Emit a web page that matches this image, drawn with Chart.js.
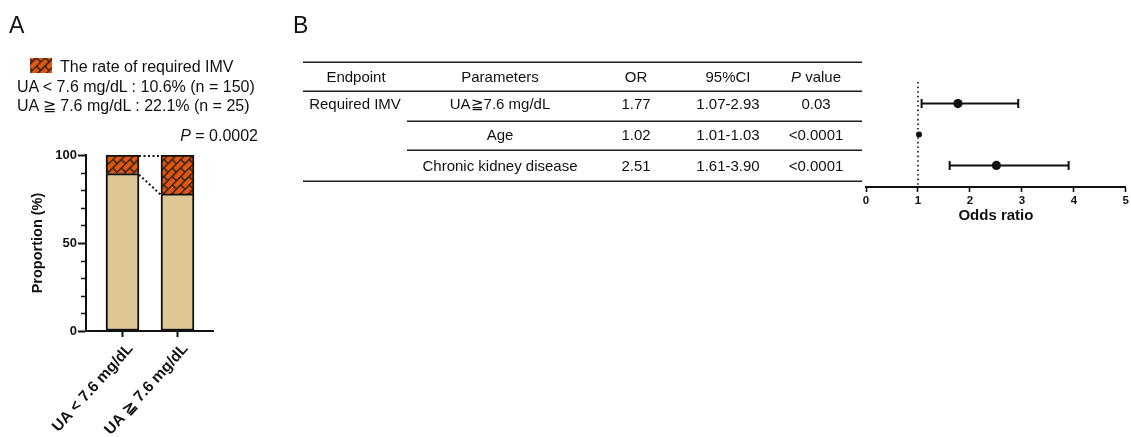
<!DOCTYPE html>
<html>
<head>
<meta charset="utf-8">
<script src="https://cdn.jsdelivr.net/npm/chart.js@4.4.1/dist/chart.umd.min.js"></script>
<style>
  html, body { margin: 0; padding: 0; background: #fff; width: 1131px; height: 437px; overflow: hidden; }
  body { position: relative; font-family: "Liberation Sans", Arial, sans-serif; color: #111; }
  canvas { position: absolute; top: 0; }
  .panel { position: absolute; font-size: 23px; line-height: 23px; }
  .t { position: absolute; white-space: nowrap; font-size: 16px; line-height: 16px; }
</style>
</head>
<body>
<canvas id="barA" width="280" height="437" style="left:0"></canvas>
<canvas id="forestB" width="841" height="437" style="left:290px"></canvas>

<div class="panel" style="left:9px; top:13.5px">A</div>
<div class="panel" style="left:293px; top:13.5px">B</div>
<div class="t" style="left:60px; top:59px">The rate of required IMV</div>
<div class="t" style="left:17px; top:79px">UA &lt; 7.6 mg/dL : 10.6% (n = 150)</div>
<div class="t" style="left:17px; top:97.5px">UA &#8807; 7.6 mg/dL : 22.1% (n = 25)</div>
<div class="t" style="right:873px; top:127.5px"><i>P</i> = 0.0002</div>

<script>
// ---- Panel A: proportion of patients by uric acid group ----
const groupLabels = ['UA < 7.6 mg/dL', 'UA \u2267 7.6 mg/dL'];
const groupPos = [1, 2];
const noImvRate = [89.4, 77.9];
const imvRate = [10.6, 22.1];
const proportionTicks = [0, 50, 100];

// ---- Panel B: multivariable odds ratios for required IMV ----
const endpointLabel = 'Required IMV';
const paramLabels = ['UA\u22677.6 mg/dL', 'Age', 'Chronic kidney disease'];
const rowPos = [1, 2, 3];
const oddsRatio = [1.77, 1.02, 2.51];
const ciLow = [1.07, 1.01, 1.61];
const ciHigh = [2.93, 1.03, 3.90];
const pValues = ['0.03', '<0.0001', '<0.0001'];
const oddsTicks = [0, 1, 2, 3, 4, 5];

const FAMILY = '"Liberation Sans", Arial, sans-serif';
const INK = '#111';

// brick hatch used for the IMV segment and its legend swatch
function brickPattern(ctx) {
  const t = document.createElement('canvas');
  t.width = 12; t.height = 12;
  const g = t.getContext('2d');
  g.fillStyle = '#e4570e';
  g.fillRect(0, 0, 12, 12);
  g.strokeStyle = '#1b1b1b';
  g.lineWidth = 1.3;
  g.beginPath();
  g.moveTo(0, 0.5); g.lineTo(12, 0.5);
  g.moveTo(0, 6.5); g.lineTo(12, 6.5);
  g.moveTo(3, 0.5); g.lineTo(3, 6.5);
  g.moveTo(9, 6.5); g.lineTo(9, 12.5);
  g.stroke();
  const p = ctx.createPattern(t, 'repeat');
  p.setTransform(new DOMMatrix().rotateSelf(-45));
  return p;
}

const ctxA = document.getElementById('barA').getContext('2d');
const brick = brickPattern(ctxA);

// minor ticks on the proportion axis, dotted connectors between bars, legend swatch
const barExtras = {
  id: 'barExtras',
  afterDraw(chart) {
    const ctx = chart.ctx;
    const ys = chart.scales.y;
    const x0 = chart.chartArea.left;
    ctx.save();
    ctx.strokeStyle = INK;
    ctx.lineWidth = 1.5;
    ctx.beginPath();
    for (let v = 10; v < 100; v += 10) {
      if (v % 50 === 0) continue;
      const py = Math.round(ys.getPixelForValue(v)) + 0.5;
      ctx.moveTo(x0 - 5, py);
      ctx.lineTo(x0, py);
    }
    ctx.stroke();

    const m0 = chart.getDatasetMeta(0).data;
    const m1 = chart.getDatasetMeta(1).data;
    ctx.setLineDash([2, 2.5]);
    ctx.lineWidth = 2;
    ctx.beginPath();
    [m0, m1].forEach(d => {
      ctx.moveTo(d[0].x + d[0].width / 2, d[0].y + 1);
      ctx.lineTo(d[1].x - d[1].width / 2, d[1].y + 1);
    });
    ctx.stroke();
    ctx.setLineDash([]);

    ctx.fillStyle = brick;
    ctx.fillRect(30, 58, 22, 15);
    ctx.restore();
  }
};

new Chart(ctxA, {
  type: 'bar',
  data: {
    datasets: [
      {
        label: 'No IMV',
        data: groupPos.map((x, i) => ({ x, y: noImvRate[i] })),
        backgroundColor: '#dfc795',
        borderColor: INK,
        borderWidth: 2,
        borderSkipped: false,
        barThickness: 33
      },
      {
        label: 'The rate of required IMV',
        data: groupPos.map((x, i) => ({ x, y: imvRate[i] })),
        backgroundColor: brick,
        borderColor: INK,
        borderWidth: 2,
        borderSkipped: 'bottom',
        barThickness: 33
      }
    ]
  },
  options: {
    responsive: false,
    animation: false,
    layout: { padding: { left: 0, right: 67, top: 155, bottom: 0 } },
    plugins: { legend: { display: false }, tooltip: { enabled: false } },
    scales: {
      x: {
        type: 'linear',
        stacked: true,
        offset: false,
        min: 0.3364,
        max: 2.6455,
        afterBuildTicks: s => { s.ticks = groupPos.map(v => ({ value: v })); },
        afterFit: s => { s.height = 106; },
        ticks: {
          callback: v => groupLabels[groupPos.indexOf(v)],
          minRotation: 48,
          maxRotation: 48,
          labelOffset: 8,
          font: { family: FAMILY, weight: 'bold', size: 15.5 },
          color: INK,
          padding: 3
        },
        grid: { offset: false, drawOnChartArea: false, tickLength: 6, tickWidth: 2, tickColor: INK },
        border: { color: INK, width: 2 }
      },
      y: {
        stacked: true,
        min: 0,
        max: 100,
        afterBuildTicks: s => { s.ticks = proportionTicks.map(v => ({ value: v })); },
        afterFit: s => { s.width = 86; },
        ticks: { font: { family: FAMILY, weight: 'bold', size: 13 }, color: INK, padding: 1 },
        grid: { drawOnChartArea: false, tickLength: 8, tickWidth: 2, tickColor: INK },
        border: { color: INK, width: 2 },
        title: {
          display: true,
          text: 'Proportion (%)',
          font: { family: FAMILY, weight: 'bold', size: 14.5 },
          color: INK,
          padding: { top: 29, bottom: 0 }
        }
      }
    }
  },
  plugins: [barExtras]
});

// ---- Panel B ----
const ctxB = document.getElementById('forestB').getContext('2d');

// confidence intervals, reference line at OR = 1, and the regression table
const forestExtras = {
  id: 'forestExtras',
  beforeDatasetsDraw(chart) {
    const ctx = chart.ctx;
    const xs = chart.scales.x, ys = chart.scales.y;
    const ca = chart.chartArea;
    ctx.save();
    ctx.strokeStyle = INK;
    ctx.setLineDash([1.6, 3]);
    ctx.lineWidth = 1.6;
    ctx.beginPath();
    const x1 = xs.getPixelForValue(1);
    ctx.moveTo(x1, ca.top);
    ctx.lineTo(x1, ca.bottom);
    ctx.stroke();
    ctx.setLineDash([]);
    ctx.lineWidth = 2;
    ctx.beginPath();
    rowPos.forEach((r, i) => {
      const py = ys.getPixelForValue(r);
      const a = xs.getPixelForValue(ciLow[i]);
      const b = xs.getPixelForValue(ciHigh[i]);
      ctx.moveTo(a, py); ctx.lineTo(b, py);
      if (b - a > 4) {
        ctx.moveTo(a, py - 4.5); ctx.lineTo(a, py + 4.5);
        ctx.moveTo(b, py - 4.5); ctx.lineTo(b, py + 4.5);
      }
    });
    ctx.stroke();
    ctx.restore();
  },
  afterDraw(chart) {
    const ctx = chart.ctx;
    const ys = chart.scales.y;
    const left = 13, right = 572, innerLeft = 117;
    const col = [66, 210, 346, 438, 526];
    const cap = 15 * 0.358;
    ctx.save();
    ctx.strokeStyle = '#1e1e1e';
    ctx.lineWidth = 1.6;
    const hline = (v, x0) => {
      const py = Math.round(ys.getPixelForValue(v)) + 0.2;
      ctx.beginPath(); ctx.moveTo(x0, py); ctx.lineTo(right, py); ctx.stroke();
    };
    hline(-0.357, left);
    hline(0.59, left);
    hline(1.553, innerLeft);
    hline(2.508, innerLeft);
    hline(3.49, left);

    ctx.fillStyle = INK;
    ctx.textAlign = 'center';
    ctx.textBaseline = 'alphabetic';
    ctx.font = '15px ' + FAMILY;
    const hy = ys.getPixelForValue(0.12) + cap;
    ctx.fillText('Endpoint', col[0], hy);
    ctx.fillText('Parameters', col[1], hy);
    ctx.fillText('OR', col[2], hy);
    ctx.fillText('95%CI', col[3], hy);
    // "P value" with italic P
    ctx.font = 'italic 15px ' + FAMILY;
    const wP = ctx.measureText('P').width;
    ctx.font = '15px ' + FAMILY;
    const wRest = ctx.measureText(' value').width;
    const startP = col[4] - (wP + wRest) / 2;
    ctx.textAlign = 'left';
    ctx.font = 'italic 15px ' + FAMILY;
    ctx.fillText('P', startP, hy);
    ctx.font = '15px ' + FAMILY;
    ctx.fillText(' value', startP + wP, hy);
    ctx.textAlign = 'center';

    rowPos.forEach((r, i) => {
      const py = ys.getPixelForValue(r) + cap;
      if (i === 0) ctx.fillText(endpointLabel, col[0] - 1, py);
      ctx.fillText(paramLabels[i], col[1], py);
      ctx.fillText(oddsRatio[i].toFixed(2), col[2], py);
      ctx.fillText(ciLow[i].toFixed(2) + '-' + ciHigh[i].toFixed(2), col[3], py);
      ctx.fillText(pValues[i], col[4], py);
    });
    ctx.restore();
  }
};

new Chart(ctxB, {
  type: 'scatter',
  data: {
    datasets: [{
      label: 'Odds ratio',
      data: rowPos.map((r, i) => ({ x: oddsRatio[i], y: r })),
      backgroundColor: INK,
      borderColor: INK,
      pointRadius: [4.6, 3, 4.6],
      borderWidth: 0
    }]
  },
  options: {
    responsive: false,
    animation: false,
    layout: { padding: { left: 576, right: 3, top: 82, bottom: 0 } },
    plugins: { legend: { display: false }, tooltip: { enabled: false } },
    scales: {
      x: {
        type: 'linear',
        min: 0,
        max: 5,
        afterBuildTicks: s => { s.ticks = oddsTicks.map(v => ({ value: v })); },
        afterFit: s => { s.height = 250; },
        ticks: { font: { family: FAMILY, weight: 'bold', size: 11.5 }, color: INK, padding: 2 },
        grid: { drawOnChartArea: false, tickLength: 5, tickWidth: 1.6, tickColor: INK },
        border: { color: INK, width: 2 },
        title: {
          display: true,
          text: 'Odds ratio',
          font: { family: FAMILY, weight: 'bold', size: 15 },
          color: INK,
          padding: { top: 0, bottom: 212 }
        }
      },
      y: { type: 'linear', reverse: true, min: 0.3, max: 3.7, display: false }
    }
  },
  plugins: [forestExtras]
});
</script>
</body>
</html>
